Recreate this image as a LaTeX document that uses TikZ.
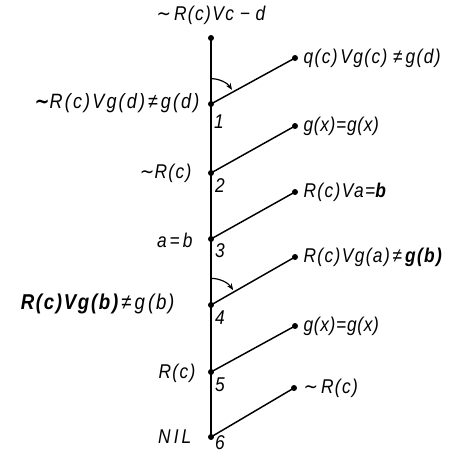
\documentclass[tikz,border=0pt]{standalone}
\usepackage{fontspec}
\usepackage{graphicx}
\setmainfont{Liberation Sans}
\newfontfamily\symf{DejaVu Sans}
\usetikzlibrary{arrows.meta}
\newcommand{\tl}{{\symf\upshape ∼}}
\newcommand{\lsp}[1]{\addfontfeature{LetterSpace=#1}}
\newcommand{\tall}[1]{\scalebox{1}[1.15]{#1}}
\begin{document}
\begin{tikzpicture}[x=0.75pt,y=-0.75pt,
  dot/.style={circle,fill=black,inner sep=0pt,minimum size=4.5pt},
  trunk/.style={line width=2.2pt},
  thin trunk/.style={line width=1.3pt},
  branch/.style={line width=1.1pt},
  lbl/.style={font=\itshape\fontsize{13}{15}\selectfont\lsp{8},inner sep=1pt},
  num/.style={font=\itshape\fontsize{13}{15}\selectfont,inner sep=0pt},
  turn/.style={line width=0.9pt,-{Stealth[length=5pt,width=4pt]}}]
\useasboundingbox (0,0) rectangle (462,454);
% trunk dots
\node[dot] (t) at (211,38) {};
\node[dot] (n1) at (211,104) {};
\node[dot] (n2) at (211,173) {};
\node[dot] (n3) at (211,239) {};
\node[dot] (n4) at (211,305) {};
\node[dot] (n5) at (211,372) {};
\node[dot] (n6) at (211,437) {};
% branch dots
\node[dot] (r1) at (295,58) {};
\node[dot] (r2) at (295,126) {};
\node[dot] (r3) at (295,192) {};
\node[dot] (r4) at (295,257) {};
\node[dot] (r5) at (295,326) {};
\node[dot] (r6) at (294,388) {};
% trunk
\draw[trunk] (t.center) -- (n1.center);
\draw[thin trunk] (n1.center) -- (n2.center);
\draw[trunk] (n2.center) -- (n3.center) -- (n4.center) -- (n5.center) -- (n6.center);
% branches
\foreach \i in {1,...,6}{\draw[branch] (n\i.center) -- (r\i.center);}
% turning arcs
\draw[turn] ([yshift=19pt]n1.center) arc[start angle=90,end angle=34,radius=19pt];
\draw[turn] ([yshift=20pt]n4.center) arc[start angle=90,end angle=34,radius=20pt];
% top label
\node[lbl] (tt) at (211,15) {\tall{\tl\,R(c)Vc\,\,−\,\,d}};
% left labels
\node[lbl,anchor=east] (l1) at (201,103) {\tall{\fontsize{13.5}{15}\selectfont\lsp{12}{\symf\bfseries ∼}R(c)Vg(d)\,≠\,g(d)}};
\node[lbl,anchor=east] (l2) at (193,173) {\tall{\tl R(c)}};
\node[lbl,anchor=east] (l3) at (194,240) {\tall{a\,=\,b}};
\node[lbl,anchor=east] (l4) at (176,304) {\tall{\fontsize{14}{15}\selectfont\lsp{9}\textbf{R(c)Vg(b)}\,≠\,g\,(b)}};
\node[lbl,anchor=east] (l5) at (197,373) {\tall{R(c)}};
\node[lbl,anchor=east] (l6) at (193,437) {\tall{\lsp{18}NIL}};
% right labels
\node[lbl,anchor=west] (q1) at (302,58) {\tall{q(c)\,Vg(c)\,\,≠\,g(d)}};
\node[lbl,anchor=west] (q2) at (302,126) {\tall{\lsp{4}g(x)=g(x)}};
\node[lbl,anchor=west] (q3) at (302,192) {\tall{R(c)Va=\textbf{b}}};
\node[lbl,anchor=west] (q4) at (302,257) {\tall{R(c)Vg(a)\,≠\,\textbf{g(b)}}};
\node[lbl,anchor=west] (q5) at (302,326) {\tall{\lsp{4}g(x)=g(x)}};
\node[lbl,anchor=west] (q6) at (302,388) {\tall{\tl\,R(c)}};
% numbers
\node[num] (k1) at (219,122) {\tall{1}};
\node[num] (k2) at (220,186) {\tall{2}};
\node[num] (k3) at (220,251) {\tall{3}};
\node[num] (k4) at (220,318) {\tall{4}};
\node[num] (k5) at (220,385) {\tall{5}};
\node[num] (k6) at (220,443) {\tall{6}};
\end{tikzpicture}
\end{document}
